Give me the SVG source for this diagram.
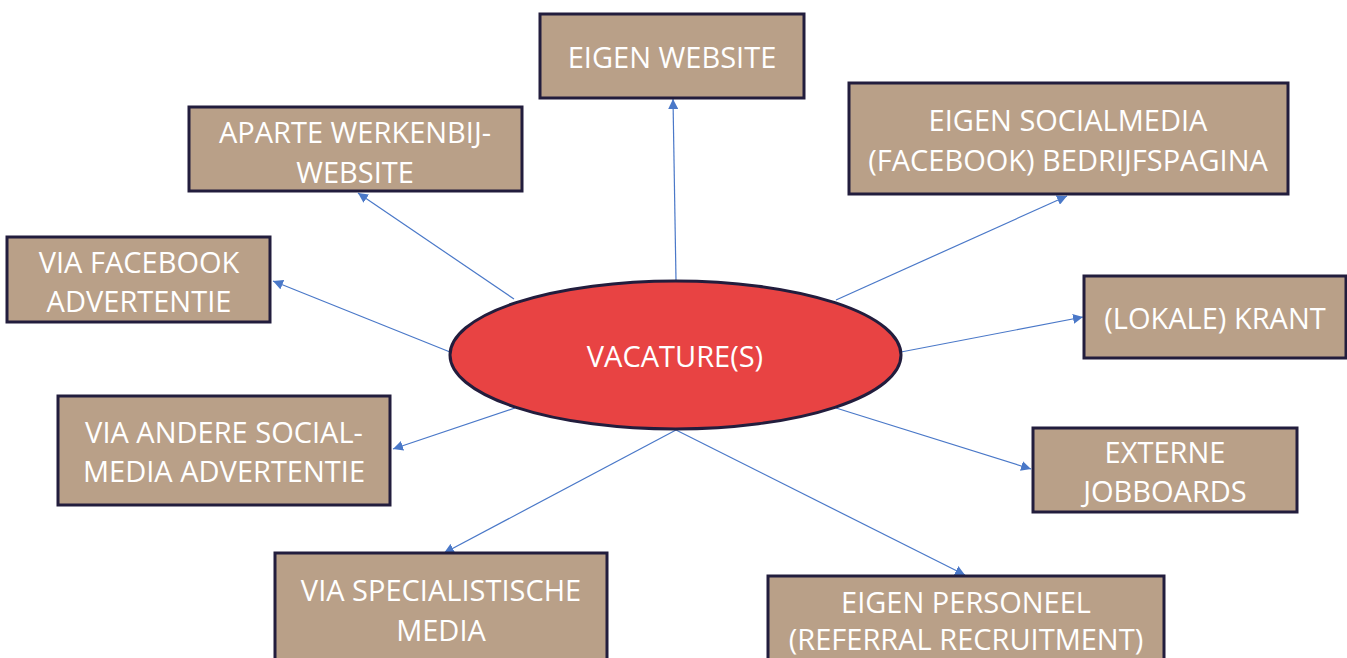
<svg xmlns="http://www.w3.org/2000/svg" width="1347" height="658" viewBox="0 0 1347 658">
<defs>
<style>
.box{fill:#B9A088;stroke:#221d3d;stroke-width:3}
.t{font-family:"Open Sans","Liberation Sans",sans-serif;font-size:29px;fill:#ffffff;text-anchor:middle;dominant-baseline:central}
.c{stroke:#4a78c8;stroke-width:1.2;fill:none;marker-end:url(#ah)}
</style>
<marker id="ah" viewBox="0 0 10 10" refX="10" refY="5" markerWidth="10" markerHeight="10" markerUnits="userSpaceOnUse" orient="auto">
<path d="M0,0 L10,5 L0,10 z" fill="#4a78c8"/>
</marker>
</defs>
<rect width="1347" height="658" fill="#ffffff"/>
<g id="connectors">
<line class="c" x1="676" y1="280" x2="673" y2="99"/>
<line class="c" x1="514" y1="299" x2="358" y2="193"/>
<line class="c" x1="836" y1="300" x2="1067" y2="196"/>
<line class="c" x1="450" y1="352" x2="273" y2="281"/>
<line class="c" x1="901" y1="352" x2="1083" y2="317"/>
<line class="c" x1="515" y1="408" x2="393" y2="449"/>
<line class="c" x1="836" y1="408" x2="1031" y2="469"/>
<line class="c" x1="676" y1="430" x2="444" y2="553"/>
<line class="c" x1="676" y1="430" x2="965" y2="575"/>
</g>
<g id="center">
<ellipse cx="675.5" cy="355" rx="225.5" ry="74" fill="#E84343" stroke="#221d3d" stroke-width="3"/>
<text class="t" x="675" y="355">VACATURE(S)</text>
</g>
<g id="eigen-website">
<rect class="box" x="540" y="14" width="264" height="84"/>
<text class="t" x="672" y="56">EIGEN WEBSITE</text>
</g>
<g id="aparte">
<rect class="box" x="189" y="107" width="333" height="84"/>
<text class="t" x="355" y="131">APARTE WERKENBIJ-</text>
<text class="t" x="355" y="171">WEBSITE</text>
</g>
<g id="socialmedia">
<rect class="box" x="849" y="83" width="439" height="111"/>
<text class="t" x="1068" y="119">EIGEN SOCIALMEDIA</text>
<text class="t" x="1068" y="159">(FACEBOOK) BEDRIJFSPAGINA</text>
</g>
<g id="facebook">
<rect class="box" x="7" y="237" width="263" height="85"/>
<text class="t" x="139" y="261">VIA FACEBOOK</text>
<text class="t" x="139" y="300">ADVERTENTIE</text>
</g>
<g id="krant">
<rect class="box" x="1084" y="276" width="262" height="82"/>
<text class="t" x="1215" y="317">(LOKALE) KRANT</text>
</g>
<g id="andere">
<rect class="box" x="58" y="396" width="332" height="109"/>
<text class="t" x="224" y="431">VIA ANDERE SOCIAL-</text>
<text class="t" x="224" y="470">MEDIA ADVERTENTIE</text>
</g>
<g id="externe">
<rect class="box" x="1033" y="428" width="264" height="84"/>
<text class="t" x="1165" y="451">EXTERNE</text>
<text class="t" x="1165" y="490">JOBBOARDS</text>
</g>
<g id="specialistische">
<rect class="box" x="275" y="553" width="332" height="120"/>
<text class="t" x="441" y="589">VIA SPECIALISTISCHE</text>
<text class="t" x="441" y="629">MEDIA</text>
</g>
<g id="personeel">
<rect class="box" x="768" y="576" width="396" height="100"/>
<text class="t" x="966" y="601">EIGEN PERSONEEL</text>
<text class="t" x="966" y="638">(REFERRAL RECRUITMENT)</text>
</g>
</svg>
